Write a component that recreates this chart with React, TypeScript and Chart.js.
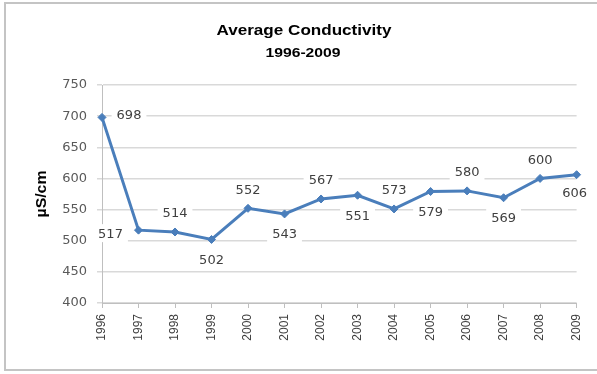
import React, { useEffect, useRef } from "react";
import { Chart, registerables } from "chart.js";

Chart.register(...registerables);

const years = ["1996","1997","1998","1999","2000","2001","2002","2003","2004","2005","2006","2007","2008","2009"];
const conductivity = [698, 517, 514, 502, 552, 543, 567, 573, 551, 579, 580, 569, 600, 606];
const labelTexts = ["698","517","514","502","552","543","567","551","573","579","580","569","600","606"];
const labelPlacement = ["right","left","above","below","above","below","above","below","above","below","above","below","above","belowright"];
const yTicks = [400, 450, 500, 550, 600, 650, 700, 750];
const titleText = "Average Conductivity";
const subtitleText = "1996-2009";
const yAxisTitle = "µS/cm";

const TICK_FONT = "DejaVu Sans";

const fitText = (ctx: CanvasRenderingContext2D, text: string, cx: number, cy: number, width: number) => {
  const w = ctx.measureText(text).width;
  ctx.save();
  ctx.translate(cx, cy);
  ctx.scale(width / w, 1);
  ctx.textAlign = "center";
  ctx.fillText(text, 0, 0);
  ctx.restore();
};

const decorPlugin = {
  id: "decor",
  beforeDraw(chart: any) {
    const ctx = chart.ctx as CanvasRenderingContext2D;
    ctx.save();
    ctx.fillStyle = "#ffffff";
    ctx.fillRect(0, 0, chart.width, chart.height);
    ctx.strokeStyle = "#c4c4c4";
    ctx.lineWidth = 2;
    ctx.strokeRect(5, 3, chart.width + 10, 367);
    ctx.restore();
  },
  afterDraw(chart: any) {
    const ctx = chart.ctx as CanvasRenderingContext2D;
    ctx.save();
    ctx.fillStyle = "#000000";
    ctx.textBaseline = "alphabetic";
    ctx.font = "bold 15px 'Liberation Sans'";
    fitText(ctx, titleText, 304, 35, 175);
    ctx.font = "bold 13px 'Liberation Sans'";
    fitText(ctx, subtitleText, 303, 57, 75);

    // y axis title
    ctx.font = "bold 14px 'Liberation Sans'";
    ctx.textBaseline = "middle";
    const ca = chart.chartArea;
    const w = ctx.measureText(yAxisTitle).width;
    ctx.save();
    ctx.translate(42, (ca.top + ca.bottom) / 2);
    ctx.rotate(-Math.PI / 2);
    ctx.scale(47 / w, 1);
    ctx.textAlign = "center";
    ctx.fillText(yAxisTitle, 0, 0);
    ctx.restore();

    // data labels
    const meta = chart.getDatasetMeta(0);
    ctx.font = `13px '${TICK_FONT}'`;
    ctx.textAlign = "center";
    ctx.textBaseline = "middle";
    meta.data.forEach((pt: any, i: number) => {
      const txt = labelTexts[i];
      const place = labelPlacement[i];
      let x = pt.x;
      let y = pt.y;
      if (place === "above") y -= 19;
      else if (place === "below") y += 20;
      else if (place === "right") { x += 27; y -= 3; }
      else if (place === "left") { x -= 28; y += 3; }
      else if (place === "belowright") { x -= 2; y += 18; }
      const tw = ctx.measureText(txt).width;
      ctx.fillStyle = "#ffffff";
      ctx.fillRect(x - tw / 2 - 5, y - 9, tw + 10, 18);
      ctx.fillStyle = "#404040";
      ctx.fillText(txt, x, y + 1);
    });
    ctx.restore();
  },
};

export default function App() {
  const canvasRef = useRef<HTMLCanvasElement | null>(null);

  useEffect(() => {
    document.body.style.margin = "0";
    const canvas = canvasRef.current;
    if (!canvas) return;
    const chart = new Chart(canvas, {
      type: "line",
      data: {
        labels: years,
        datasets: [
          {
            data: conductivity,
            borderColor: "#4A7EBB",
            backgroundColor: "#4A7EBB",
            borderWidth: 3,
            pointStyle: "rectRot",
            pointRadius: 4,
            pointBackgroundColor: "#4A7EBB",
            pointBorderColor: "#4A7EBB",
            pointBorderWidth: 1,
            tension: 0,
            clip: false as any,
          },
        ],
      },
      options: {
        animation: false,
        responsive: false,
        devicePixelRatio: 1,
        layout: { padding: { top: 85, right: 15, left: 0, bottom: 0 } },
        plugins: {
          legend: { display: false },
          title: { display: false },
          tooltip: { enabled: false },
        },
        scales: {
          x: {
            type: "category",
            offset: false,
            grid: {
              drawOnChartArea: false,
              drawTicks: true,
              tickLength: 5,
              color: "#bfbfbf",
            },
            border: { color: "#bfbfbf", width: 1 },
            ticks: {
              autoSkip: false,
              minRotation: 90,
              maxRotation: 90,
              padding: 6,
              color: "#404040",
              font: { family: "Liberation Sans", size: 12 },
            },
            afterFit: (scale: any) => {
              scale.height = 71;
            },
          },
          y: {
            min: 400,
            max: 750,
            afterBuildTicks: (scale: any) => {
              scale.ticks = yTicks.map((v) => ({ value: v }));
            },
            grid: {
              color: "#d9d9d9",
              tickLength: 5,
              lineWidth: 1.5,
            },
            border: { color: "#bfbfbf", width: 1 },
            ticks: {
              padding: 10,
              color: "#595959",
              font: { family: TICK_FONT, size: 13 },
            },
            afterFit: (scale: any) => {
              scale.width = 102;
            },
          },
        },
      },
      plugins: [decorPlugin],
    });
    return () => chart.destroy();
  }, []);

  return <canvas ref={canvasRef} width={597} height={374} style={{ display: "block" }} />;
}
